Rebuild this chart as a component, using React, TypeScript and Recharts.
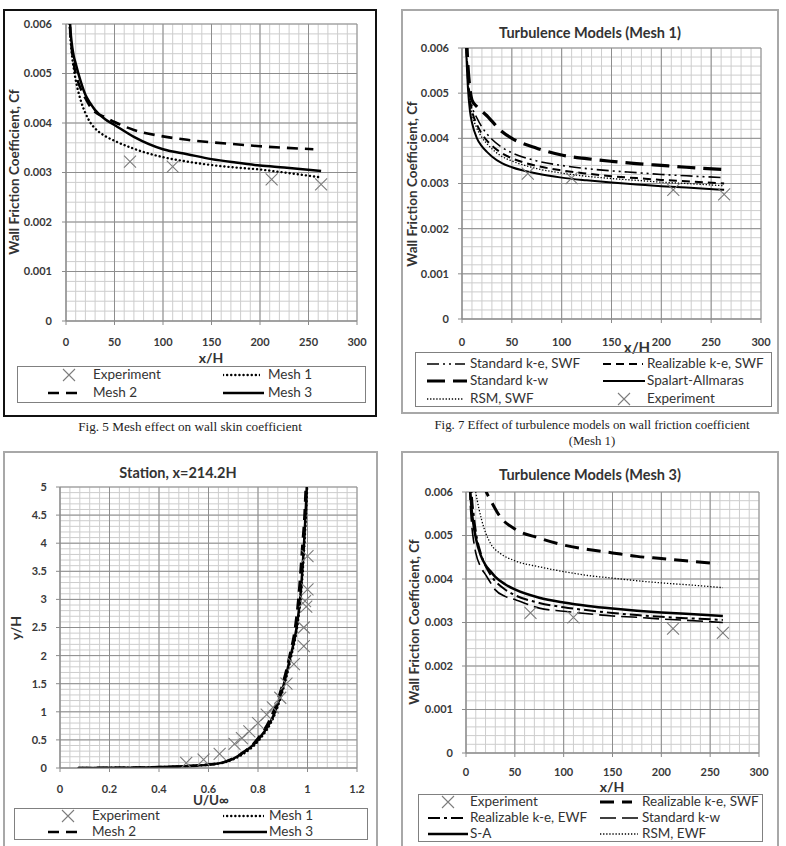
import React from "react";
import { ComposedChart, Line, Scatter, XAxis, YAxis, CartesianGrid } from "recharts";

const SANS = "Lato, 'Open Sans', Arial, sans-serif";
const SERIF = "'Liberation Serif', 'Times New Roman', serif";

type Pt = { x: number; y: number };
const pts = (xs: number[], ys: number[]): Pt[] => xs.map((x, i) => ({ x, y: ys[i] }));

// ---- shared axes ----
const xhTicks = [0, 50, 100, 150, 200, 250, 300];
const cfTicks = [0, 0.001, 0.002, 0.003, 0.004, 0.005, 0.006];
const uTicks = [0, 0.2, 0.4, 0.6, 0.8, 1, 1.2];
const yhTicks = [0, 0.5, 1, 1.5, 2, 2.5, 3, 3.5, 4, 4.5, 5];

// measured Cf (same in every Cf plot)
const expX = [66, 110, 212, 263];
const expCf = [0.00322, 0.00312, 0.00286, 0.00276];

// ---- Fig. 5: mesh study ----
const meshX = [2, 4, 6, 8, 10, 15, 20, 25, 30, 40, 50, 70, 100, 125, 150, 175, 200, 225, 263];
const mesh1Cf = [0.007, 0.0059, 0.0054, 0.0051, 0.00487, 0.00447, 0.0042, 0.00401, 0.00389, 0.00374, 0.00364, 0.00348, 0.00331, 0.00322, 0.00315, 0.0031, 0.00306, 0.003, 0.0029];
const mesh2X = [2, 4, 6, 8, 10, 15, 20, 25, 30, 40, 50, 70, 100, 125, 150, 175, 200, 225, 255];
const mesh2Cf = [0.0074, 0.006, 0.0055, 0.0052, 0.005, 0.0047, 0.0045, 0.00433, 0.00422, 0.00412, 0.00402, 0.00386, 0.00373, 0.00366, 0.00361, 0.00357, 0.00353, 0.0035, 0.00347];
const mesh3Cf = [0.0076, 0.0061, 0.0056, 0.00535, 0.0052, 0.00485, 0.00457, 0.0044, 0.00426, 0.00408, 0.00396, 0.00372, 0.00347, 0.00337, 0.00327, 0.0032, 0.00314, 0.0031, 0.00303];

// ---- Fig. 7: turbulence models, mesh 1 ----
const m1X = [2, 4, 6, 8, 10, 15, 20, 25, 30, 40, 50, 75, 100, 125, 150, 175, 200, 225, 263];
const m1StdKe = [0.0082, 0.0064, 0.0054, 0.00495, 0.00472, 0.00445, 0.00425, 0.0041, 0.00398, 0.0038, 0.00368, 0.0035, 0.0034, 0.00333, 0.00328, 0.00324, 0.0032, 0.00317, 0.00313];
const m1RealKe = [0.008, 0.0063, 0.0053, 0.00485, 0.00462, 0.0043, 0.0041, 0.00395, 0.00384, 0.00367, 0.00356, 0.00339, 0.00329, 0.00322, 0.00316, 0.00312, 0.00308, 0.00305, 0.003];
const m1StdKw = [0.0085, 0.0066, 0.0056, 0.0051, 0.00485, 0.0047, 0.0046, 0.0045, 0.00438, 0.00415, 0.004, 0.00378, 0.00363, 0.00355, 0.00349, 0.00344, 0.0034, 0.00336, 0.00331];
const m1SA = [0.0078, 0.0061, 0.0051, 0.0046, 0.00435, 0.004, 0.00382, 0.0037, 0.0036, 0.00345, 0.00336, 0.00322, 0.00313, 0.00307, 0.00302, 0.00298, 0.00294, 0.00291, 0.00286];
const m1Rsm = [0.0079, 0.0062, 0.00525, 0.0048, 0.00455, 0.00422, 0.00402, 0.00388, 0.00377, 0.0036, 0.0035, 0.00333, 0.00323, 0.00316, 0.00311, 0.00307, 0.00303, 0.003, 0.00295];

// ---- velocity profile at x = 214.2H ----
const profY = [0, 0.003, 0.01, 0.03, 0.06, 0.1, 0.25, 0.5, 1, 1.5, 2, 2.5, 3, 4, 4.5, 5];
const profMesh1U = [0.075, 0.2, 0.35, 0.5, 0.6, 0.665, 0.74, 0.805, 0.872, 0.908, 0.935, 0.958, 0.972, 0.988, 0.994, 0.999];
const profMesh2U = [0.075, 0.2, 0.35, 0.5, 0.6, 0.66, 0.73, 0.795, 0.862, 0.9, 0.928, 0.95, 0.963, 0.98, 0.988, 0.993];
const profMesh3U = [0.075, 0.2, 0.35, 0.5, 0.6, 0.66, 0.734, 0.8, 0.869, 0.905, 0.932, 0.956, 0.97, 0.986, 0.992, 0.997];
const profExpU = [0.51, 0.58, 0.645, 0.705, 0.735, 0.765, 0.8, 0.835, 0.86, 0.89, 0.915, 0.945, 0.985, 0.985, 0.995, 0.99, 1.0, 1.0];
const profExpY = [0.09, 0.15, 0.25, 0.43, 0.53, 0.65, 0.8, 0.95, 1.08, 1.25, 1.5, 1.85, 2.17, 2.5, 2.87, 2.97, 3.18, 3.77];

// ---- turbulence models, mesh 3 ----
const m3X = [2, 4, 6, 8, 10, 15, 20, 25, 30, 40, 50, 75, 100, 125, 150, 175, 200, 225, 263];
const m3RealSwfX = [10, 15, 20, 25, 35, 50, 75, 100, 125, 150, 175, 200, 225, 258];
const m3RealSwf = [0.0072, 0.0065, 0.00605, 0.00582, 0.00543, 0.00515, 0.00494, 0.00478, 0.00468, 0.0046, 0.00452, 0.00447, 0.00442, 0.00435];
const m3RsmX = [4, 6, 8, 10, 16, 25, 35, 50, 75, 100, 125, 150, 175, 200, 225, 263];
const m3Rsm = [0.0075, 0.0068, 0.0063, 0.006, 0.00536, 0.00482, 0.00459, 0.00442, 0.00428, 0.00417, 0.00408, 0.00402, 0.00396, 0.00391, 0.00387, 0.0038];
const m3SA = [0.0075, 0.0062, 0.00555, 0.0052, 0.00495, 0.00455, 0.00432, 0.00418, 0.00405, 0.00388, 0.00376, 0.00357, 0.00346, 0.00338, 0.00332, 0.00327, 0.00323, 0.0032, 0.00315];
const m3RealEwf = [0.008, 0.0066, 0.0059, 0.00545, 0.0051, 0.0046, 0.0043, 0.0041, 0.00395, 0.00376, 0.00363, 0.00345, 0.00335, 0.00328, 0.00322, 0.00317, 0.00313, 0.0031, 0.00306];
const m3StdKw = [0.0072, 0.0059, 0.0052, 0.00485, 0.0046, 0.00428, 0.0041, 0.00392, 0.00375, 0.0036, 0.00353, 0.00333, 0.00326, 0.0032, 0.00315, 0.00312, 0.00308, 0.00305, 0.003];

const range = (a: number, b: number, step: number) => {
  const out: number[] = [];
  for (let i = 0; a + i * step <= b + step / 2; i++) out.push(+(a + i * step).toFixed(6));
  return out;
};

type LineStyle = { width: number; dash?: string; cap?: "round" | "butt" };
type Curve = { name: string; data: Pt[]; style: LineStyle };

const DOTS: LineStyle = { width: 2.4, dash: "0.1 4", cap: "round" };
const FINE_DOTS: LineStyle = { width: 1.3, dash: "1.3 1.8" };
const SOLID: LineStyle = { width: 2.5 };
const MESH_DASH: LineStyle = { width: 2.6, dash: "11 7" };

const Cross = (props: any) => {
  const { cx, cy } = props;
  if (cx == null || cy == null) return null;
  const s = 6;
  return (
    <path
      d={`M${cx - s},${cy - s}L${cx + s},${cy + s}M${cx - s},${cy + s}L${cx + s},${cy - s}`}
      stroke="#7c7c7c"
      strokeWidth={1.1}
      fill="none"
    />
  );
};

type PlotProps = {
  plot: { l: number; t: number; r: number; b: number };
  xDomain: [number, number];
  xTicks: number[];
  xMinor: number[];
  yDomain: [number, number];
  yTicks: number[];
  yMinor: number[];
  fmtX: (v: number) => string;
  fmtY: (v: number) => string;
  xGap: number;
  yGap: number;
  curves: Curve[];
  exp: Pt[];
};

function Plot({ plot, xDomain, xTicks, xMinor, yDomain, yTicks, yMinor, fmtX, fmtY, xGap, yGap, curves, exp }: PlotProps) {
  const padL = 60;
  const padT = 10;
  const padR = 10;
  const padB = 34;
  const w = plot.r - plot.l + padL + padR;
  const h = plot.b - plot.t + padT + padB;
  const tick = { fontSize: 11, fontWeight: 700, fill: "#383838", fontFamily: SANS };
  return (
    <div style={{ position: "absolute", left: plot.l - padL, top: plot.t - padT }}>
      <ComposedChart width={w} height={h} margin={{ top: padT, right: padR, bottom: 0, left: 0 }}>
        <CartesianGrid stroke="#cdcdcd" strokeWidth={1} horizontalValues={yMinor} verticalValues={xMinor} />
        <CartesianGrid stroke="#8e8e8e" strokeWidth={1} horizontalValues={yTicks} verticalValues={xTicks} />
        <XAxis
          type="number"
          dataKey="x"
          domain={xDomain}
          ticks={xTicks}
          interval={0}
          allowDataOverflow
          height={padB}
          tickSize={4}
          tickMargin={xGap}
          tick={tick}
          tickFormatter={fmtX}
          axisLine={{ stroke: "#8a8a8a" }}
          tickLine={{ stroke: "#8a8a8a" }}
        />
        <YAxis
          type="number"
          dataKey="y"
          domain={yDomain}
          ticks={yTicks}
          interval={0}
          allowDataOverflow
          width={padL}
          tickSize={4}
          tickMargin={yGap}
          tick={tick}
          tickFormatter={fmtY}
          axisLine={{ stroke: "#8a8a8a" }}
          tickLine={{ stroke: "#8a8a8a" }}
        />
        {curves.map((c) => (
          <Line
            key={c.name}
            name={c.name}
            data={c.data}
            dataKey="y"
            type="monotone"
            stroke="#000"
            strokeWidth={c.style.width}
            strokeDasharray={c.style.dash}
            strokeLinecap={c.style.cap ?? "butt"}
            dot={false}
            activeDot={false}
            isAnimationActive={false}
          />
        ))}
        <Scatter name="Experiment" data={exp} dataKey="y" shape={Cross} isAnimationActive={false} />
      </ComposedChart>
    </div>
  );
}

function Txt({ x, y, children, size = 13, bold = false, font = SANS, rotate = false, color = "#333" }: any) {
  return (
    <div
      style={{
        position: "absolute",
        left: x,
        top: y,
        transform: `translate(-50%, -50%)${rotate ? " rotate(-90deg)" : ""}`,
        whiteSpace: "nowrap",
        fontFamily: font,
        fontSize: size,
        fontWeight: bold ? 700 : 400,
        color,
        lineHeight: 1,
      }}
    >
      {children}
    </div>
  );
}

type Entry = { label: string; style?: LineStyle; cross?: boolean; sx: number; sw: number; tx: number; y: number };

function LegendBox({ box, entries }: { box: { l: number; t: number; r: number; b: number }; entries: Entry[] }) {
  return (
    <>
      <div
        style={{
          position: "absolute",
          left: box.l,
          top: box.t,
          width: box.r - box.l,
          height: box.b - box.t,
          border: "1px solid #808080",
          boxSizing: "border-box",
        }}
      />
      {entries.map((e) => (
        <React.Fragment key={e.label}>
          <svg style={{ position: "absolute", left: e.sx, top: e.y - 7 }} width={e.sw} height={14}>
            {e.cross ? (
              <path
                d={`M${e.sw / 2 - 6},1L${e.sw / 2 + 6},13M${e.sw / 2 - 6},13L${e.sw / 2 + 6},1`}
                stroke="#7c7c7c"
                strokeWidth={1.1}
              />
            ) : (
              <line
                x1={0}
                y1={7}
                x2={e.sw}
                y2={7}
                stroke="#000"
                strokeWidth={e.style!.width}
                strokeDasharray={e.style!.dash}
                strokeLinecap={e.style!.cap ?? "butt"}
              />
            )}
          </svg>
          <div
            style={{
              position: "absolute",
              left: e.tx,
              top: e.y,
              transform: "translateY(-50%)",
              fontFamily: SANS,
              fontSize: 13.5,
              color: "#333",
              whiteSpace: "nowrap",
              lineHeight: 1,
            }}
          >
            {e.label}
          </div>
        </React.Fragment>
      ))}
    </>
  );
}

const fmtCf = (v: number) => (v === 0 ? "0" : v.toFixed(3));
const fmtPlain = (v: number) => String(Math.round(v * 10) / 10);

const xhMinor = range(0, 300, 10);
const cfMinor = range(0, 0.006, 0.0002);
const uMinor = range(0, 1.2, 0.04);
const yhMinor = range(0, 5, 0.1);

export default function App() {
  const exp = pts(expX, expCf);

  const fig5: Curve[] = [
    { name: "Mesh 1", data: pts(meshX, mesh1Cf), style: DOTS },
    { name: "Mesh 2", data: pts(mesh2X, mesh2Cf), style: MESH_DASH },
    { name: "Mesh 3", data: pts(meshX, mesh3Cf), style: SOLID },
  ];
  const fig7: Curve[] = [
    { name: "Standard k-e, SWF", data: pts(m1X, m1StdKe), style: { width: 1.6, dash: "12 4 2 4 2 4" } },
    { name: "Realizable k-e, SWF", data: pts(m1X, m1RealKe), style: { width: 2, dash: "8 5" } },
    { name: "Standard k-w", data: pts(m1X, m1StdKw), style: { width: 3.2, dash: "18 8" } },
    { name: "Spalart-Allmaras", data: pts(m1X, m1SA), style: { width: 2 } },
    { name: "RSM, SWF", data: pts(m1X, m1Rsm), style: FINE_DOTS },
  ];
  const prof: Curve[] = [
    { name: "Mesh 1", data: pts(profMesh1U, profY), style: DOTS },
    { name: "Mesh 2", data: pts(profMesh2U, profY), style: MESH_DASH },
    { name: "Mesh 3", data: pts(profMesh3U, profY), style: SOLID },
  ];
  const fig8: Curve[] = [
    { name: "Realizable k-e, SWF", data: pts(m3RealSwfX, m3RealSwf), style: { width: 3, dash: "14 8" } },
    { name: "Realizable k-e, EWF", data: pts(m3X, m3RealEwf), style: { width: 2, dash: "12 4 3 4" } },
    { name: "Standard k-w", data: pts(m3X, m3StdKw), style: { width: 1.6, dash: "16 6" } },
    { name: "S-A", data: pts(m3X, m3SA), style: SOLID },
    { name: "RSM, EWF", data: pts(m3RsmX, m3Rsm), style: FINE_DOTS },
  ];

  const cfAxes = {
    xDomain: [0, 300] as [number, number],
    xTicks: xhTicks,
    xMinor: xhMinor,
    yDomain: [0, 0.006] as [number, number],
    yTicks: cfTicks,
    yMinor: cfMinor,
    fmtX: fmtPlain,
    fmtY: (v: number) => fmtCf(v),
  };

  return (
    <div style={{ position: "absolute", left: 0, top: 0, width: 786, height: 846, overflow: "hidden", background: "#fff" }}>
      {/* panel frames */}
      <div style={{ position: "absolute", left: 3, top: 9, width: 374, height: 408, border: "2px solid #111", boxSizing: "border-box" }} />
      <div style={{ position: "absolute", left: 401, top: 9, width: 378, height: 405, border: "2px solid #a8a8a8", boxSizing: "border-box" }} />
      <div style={{ position: "absolute", left: 3, top: 451, width: 375, height: 410, border: "2px solid #a8a8a8", boxSizing: "border-box" }} />
      <div style={{ position: "absolute", left: 401, top: 451, width: 378, height: 410, border: "2px solid #a8a8a8", boxSizing: "border-box" }} />

      {/* Fig. 5 */}
      <Plot plot={{ l: 66, t: 24, r: 357, b: 321 }} {...cfAxes} xGap={13} yGap={10} curves={fig5} exp={exp} />
      <Txt x={15} y={172} bold size={13.5} rotate>Wall Friction Coefficient, Cf</Txt>
      <Txt x={211} y={358} bold size={14}>x/H</Txt>
      <LegendBox
        box={{ l: 17, t: 366, r: 366, b: 403 }}
        entries={[
          { label: "Experiment", cross: true, sx: 49, sw: 40, tx: 93, y: 375 },
          { label: "Mesh 1", style: DOTS, sx: 223, sw: 37, tx: 268, y: 375 },
          { label: "Mesh 2", style: MESH_DASH, sx: 48, sw: 32, tx: 93, y: 393 },
          { label: "Mesh 3", style: SOLID, sx: 223, sw: 41, tx: 268, y: 393 },
        ]}
      />
      <Txt x={190} y={427} size={13.2} font={SERIF} color="#222">Fig. 5 Mesh effect on wall skin coefficient</Txt>

      {/* Fig. 7 */}
      <Txt x={590} y={33} bold size={14.5}>Turbulence Models (Mesh 1)</Txt>
      <Plot plot={{ l: 462, t: 48, r: 761, b: 319 }} {...cfAxes} xGap={15} yGap={9} curves={fig7} exp={exp} />
      <Txt x={413} y={184} bold size={13.5} rotate>Wall Friction Coefficient, Cf</Txt>
      <Txt x={637} y={347} bold size={15}>x/H</Txt>
      <LegendBox
        box={{ l: 415, t: 352, r: 772, b: 407 }}
        entries={[
          { label: "Standard k-e, SWF", style: { width: 1.6, dash: "12 4 2 4 2 4" }, sx: 427, sw: 38, tx: 470, y: 364 },
          { label: "Realizable k-e, SWF", style: { width: 2, dash: "8 5" }, sx: 603, sw: 40, tx: 647, y: 364 },
          { label: "Standard k-w", style: { width: 3.2, dash: "18 8" }, sx: 427, sw: 40, tx: 470, y: 381 },
          { label: "Spalart-Allmaras", style: { width: 2 }, sx: 603, sw: 42, tx: 647, y: 381 },
          { label: "RSM, SWF", style: FINE_DOTS, sx: 427, sw: 36, tx: 470, y: 399 },
          { label: "Experiment", cross: true, sx: 604, sw: 40, tx: 647, y: 399 },
        ]}
      />
      <Txt x={592} y={425} size={12.8} font={SERIF} color="#222">Fig. 7 Effect of turbulence models on wall friction coefficient</Txt>
      <Txt x={592} y={441} size={12.8} font={SERIF} color="#222">(Mesh 1)</Txt>

      {/* velocity profile */}
      <Txt x={178} y={473} bold size={14.5}>Station, x=214.2H</Txt>
      <Plot
        plot={{ l: 60, t: 487, r: 357, b: 768 }}
        xDomain={[0, 1.2]}
        xTicks={uTicks}
        xMinor={uMinor}
        yDomain={[0, 5]}
        yTicks={yhTicks}
        yMinor={yhMinor}
        fmtX={fmtPlain}
        fmtY={fmtPlain}
        xGap={13}
        yGap={9}
        curves={prof}
        exp={pts(profExpU, profExpY)}
      />
      <Txt x={16} y={628} bold size={14} rotate>y/H</Txt>
      <Txt x={211} y={801} bold size={13.5}>U/U∞</Txt>
      <LegendBox
        box={{ l: 14, t: 808, r: 368, b: 840 }}
        entries={[
          { label: "Experiment", cross: true, sx: 48, sw: 40, tx: 92, y: 816 },
          { label: "Mesh 1", style: DOTS, sx: 223, sw: 41, tx: 269, y: 816 },
          { label: "Mesh 2", style: MESH_DASH, sx: 48, sw: 32, tx: 92, y: 832 },
          { label: "Mesh 3", style: SOLID, sx: 223, sw: 44, tx: 269, y: 832 },
        ]}
      />

      {/* turbulence models, mesh 3 */}
      <Txt x={590} y={475} bold size={14.5}>Turbulence Models (Mesh 3)</Txt>
      <Plot plot={{ l: 466, t: 492, r: 759, b: 753 }} {...cfAxes} xGap={11} yGap={9} curves={fig8} exp={exp} />
      <Txt x={415} y={622} bold size={13.5} rotate>Wall Friction Coefficient, Cf</Txt>
      <Txt x={612} y={787} bold size={14}>x/H</Txt>
      <LegendBox
        box={{ l: 418, t: 794, r: 763, b: 842 }}
        entries={[
          { label: "Experiment", cross: true, sx: 428, sw: 40, tx: 470, y: 802 },
          { label: "Realizable k-e, SWF", style: { width: 3, dash: "14 8" }, sx: 600, sw: 32, tx: 642, y: 802 },
          { label: "Realizable k-e, EWF", style: { width: 2, dash: "12 4 3 4" }, sx: 428, sw: 39, tx: 470, y: 818 },
          { label: "Standard k-w", style: { width: 1.6, dash: "16 6" }, sx: 600, sw: 38, tx: 642, y: 818 },
          { label: "S-A", style: SOLID, sx: 428, sw: 40, tx: 470, y: 834 },
          { label: "RSM, EWF", style: FINE_DOTS, sx: 600, sw: 38, tx: 642, y: 834 },
        ]}
      />
    </div>
  );
}
